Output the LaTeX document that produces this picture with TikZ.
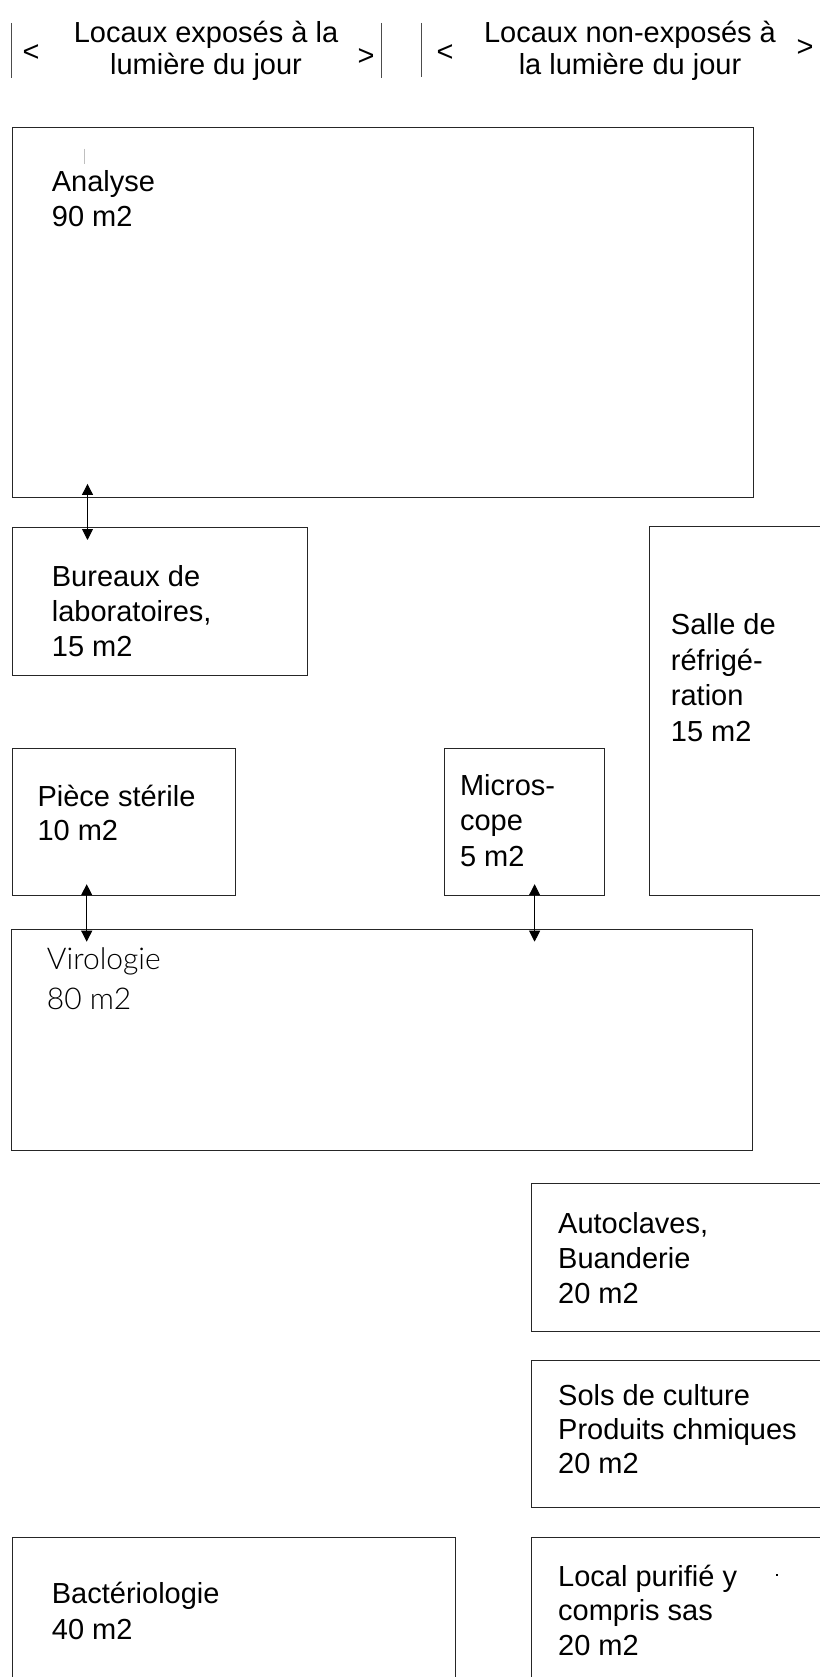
\documentclass[tikz,border=0pt]{standalone}
\usepackage{fontspec}
\setmainfont{Liberation Sans}
\newfontfamily\virofont{Lato Light}
\usetikzlibrary{arrows.meta}
\begin{document}
\begin{tikzpicture}[x=1pt,y=-1pt,
  room/.style={draw=black!85, line width=0.9pt, inner sep=0pt, anchor=north west},
  lbl/.style={anchor=base west, inner sep=0pt, align=left},
  hdr/.style={anchor=base, inner sep=0pt, align=center, font=\fontsize{29}{32}\selectfont},
  sym/.style={anchor=base, inner sep=0pt, font=\fontsize{29}{29}\selectfont},
  link/.style={line width=0.9pt, {Triangle[length=11pt,width=11pt]}-{Triangle[length=11pt,width=11pt]}},
  sepline/.style={draw=black!70, line width=0.8pt}]
\useasboundingbox (0,0) rectangle (819,1677);
\fill[white] (0,0) rectangle (819,1677);

% header (base anchor = last line's baseline)
\draw[sepline] (11,23) -- (11,78);
\draw[sepline] (381.7,23) -- (381.7,78);
\draw[sepline] (421.7,23) -- (421.7,77);
\node[hdr] (h1) at (206,74.5) {Locaux exposés à la\\lumière du jour};
\node[hdr] (h2) at (630,75) {Locaux non-exposés à\\la lumière du jour};
\node[sym] (lt1) at (31,62) {<};
\node[sym] (gt1) at (366,66) {>};
\node[sym] (lt2) at (445,62) {<};
\node[sym] (gt2) at (805,57) {>};

% rooms
\node[room, minimum width=741pt, minimum height=370pt] (analyse) at (12,127) {};
\node[room, minimum width=295pt, minimum height=148pt] (bureaux) at (12,527) {};
\node[room, minimum width=190pt, minimum height=369pt] (salle) at (648.5,526) {};
\node[room, minimum width=223pt, minimum height=147pt] (piece) at (12,748) {};
\node[room, minimum width=160pt, minimum height=147pt] (micro) at (444,748) {};
\node[room, minimum width=741pt, minimum height=221pt] (viro) at (11,929.3) {};
\node[room, minimum width=300pt, minimum height=148pt] (auto) at (530.7,1182.7) {};
\node[room, minimum width=300pt, minimum height=147pt] (sols) at (530.7,1360) {};
\node[room, minimum width=300pt, minimum height=170pt] (local) at (530.7,1537) {};
\node[room, minimum width=443pt, minimum height=170pt] (bact) at (11.7,1536.7) {};

% labels (placed at the baseline of their last line)
\node[lbl, font=\fontsize{29}{34.5}\selectfont] (tanalyse) at (51.7,226.2) {Analyse\\90 m2};
\node[lbl, font=\fontsize{29}{35}\selectfont] (tbureaux) at (51.7,656) {Bureaux de\\laboratoires,\\15 m2};
\node[lbl, font=\fontsize{29}{35.5}\selectfont] (tsalle) at (670.7,741) {Salle de\\réfrigé-\\ration\\15 m2};
\node[lbl, font=\fontsize{29}{34}\selectfont] (tpiece) at (37.3,840) {Pièce stérile\\10 m2};
\node[lbl, font=\fontsize{29}{35.3}\selectfont] (tmicro) at (459.8,866) {Micros-\\cope\\5 m2};
\node[lbl, font=\virofont\fontsize{30}{40}\selectfont] (tviro) at (46.7,1009) {Virologie\\80 m2};
\node[lbl, font=\fontsize{29}{35}\selectfont] (tauto) at (558,1303) {Autoclaves,\\Buanderie\\20 m2};
\node[lbl, font=\fontsize{29}{34}\selectfont] (tsols) at (558,1473) {Sols de culture\\Produits chmiques\\20 m2};
\node[lbl, font=\fontsize{29}{34.5}\selectfont] (tlocal) at (558,1655) {Local purifié y\\compris sas\\20 m2};
\node[lbl, font=\fontsize{29}{36}\selectfont] (tbact) at (51.7,1639) {Bactériologie\\40 m2};

% small marks
\draw[black!25, line width=0.8pt] (84,149) -- (84,164);
\fill (775.5,1573.8) rectangle (778,1576.3);

% connectors
\draw[link] ([xshift=75.5pt,yshift=14pt]analyse.south west) -- ([xshift=75.5pt,yshift=-13pt]bureaux.north west);
\draw[link] ([xshift=74.7pt,yshift=11.7pt]piece.south west) -- ([xshift=75.7pt,yshift=-12.4pt]viro.north west);
\draw[link] ([xshift=90.6pt,yshift=11.7pt]micro.south west) -- ([xshift=523.6pt,yshift=-12.4pt]viro.north west);
\end{tikzpicture}
\end{document}
